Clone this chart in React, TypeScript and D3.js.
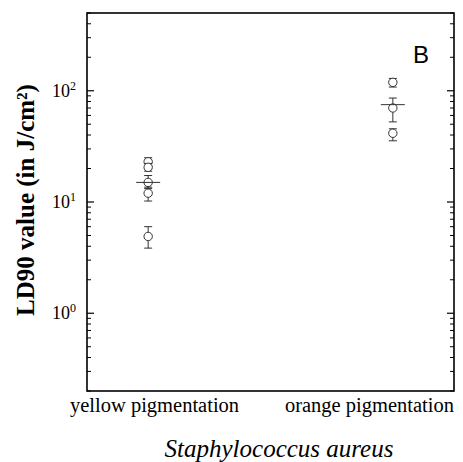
import React from "react";
import * as d3 from "d3";

// groups on the x axis
const groups = ["yellow pigmentation", "orange pigmentation"];

// individual strains: LD90 value and error bar ends
const yellowValues = [23, 20.5, 15, 12, 4.9];
const yellowHigh = [25, 22.2, 17.3, 13.6, 6.0];
const yellowLow = [21, 18.9, 13.2, 10.2, 3.85];

const orangeValues = [119, 70, 41.5];
const orangeHigh = [129, 86, 45.5];
const orangeLow = [108, 52.5, 35.5];

// group means
const groupMeans = [15, 75];

const yTickValues = [1, 10, 100];

const width = 463;
const height = 462;
const margin = { top: 13, right: 9, bottom: 71, left: 87 };

const serif = "Liberation Serif, Times New Roman, serif";

const App = () => {
  const innerW = width - margin.left - margin.right;
  const innerH = height - margin.top - margin.bottom;

  const x = d3.scalePoint().domain(groups).range([0, innerW]).padding(0.25);
  const y = d3.scaleLog().domain([0.2, 500]).range([innerH, 0]);

  const minor: number[] = [];
  [0.1, 1, 10, 100].forEach((d) => {
    for (let k = 2; k <= 9; k++) {
      const v = d * k;
      if (v >= 0.2 && v <= 500) minor.push(v);
    }
  });

  const points = [
    ...yellowValues.map((v, i) => ({ g: groups[0], v, hi: yellowHigh[i], lo: yellowLow[i] })),
    ...orangeValues.map((v, i) => ({ g: groups[1], v, hi: orangeHigh[i], lo: orangeLow[i] })),
  ];

  return (
    <svg width={width} height={height} style={{ position: "absolute", left: 0, top: 0, background: "#fff" }}>
      <g transform={`translate(${margin.left},${margin.top})`}>
        <rect x={0} y={0} width={innerW} height={innerH} fill="none" stroke="#000" strokeWidth={1.6} />

        {minor.map((v) => (
          <g key={"m" + v}>
            <line x1={0} x2={4} y1={y(v)} y2={y(v)} stroke="#000" strokeWidth={1} />
            <line x1={innerW} x2={innerW - 4} y1={y(v)} y2={y(v)} stroke="#000" strokeWidth={1} />
          </g>
        ))}
        {yTickValues.map((v) => (
          <g key={"t" + v}>
            <line x1={0} x2={7} y1={y(v)} y2={y(v)} stroke="#000" strokeWidth={1.2} />
            <line x1={innerW} x2={innerW - 7} y1={y(v)} y2={y(v)} stroke="#000" strokeWidth={1.2} />
            <text x={-11} y={y(v) + 6} textAnchor="end" fontFamily={serif} fontSize={18} fill="#000">
              10
              <tspan dy={-7} fontSize={12}>{Math.round(Math.log10(v))}</tspan>
            </text>
          </g>
        ))}

        {points.map((p, i) => {
          const cx = x(p.g)!;
          return (
            <g key={"p" + i} stroke="#333" fill="none" strokeWidth={1}>
              <line x1={cx} x2={cx} y1={y(p.hi)} y2={y(p.lo)} />
              <line x1={cx - 4} x2={cx + 4} y1={y(p.hi)} y2={y(p.hi)} />
              <line x1={cx - 4} x2={cx + 4} y1={y(p.lo)} y2={y(p.lo)} />
              <circle cx={cx} cy={y(p.v)} r={4.2} fill="#fff" />
            </g>
          );
        })}

        {groupMeans.map((m, i) => (
          <line key={"mean" + i} x1={x(groups[i])! - 12} x2={x(groups[i])! + 12} y1={y(m)} y2={y(m)} stroke="#333" strokeWidth={1} />
        ))}

        <text x={326} y={50} fontFamily="Liberation Sans, Arial, sans-serif" fontSize={24} fill="#000">B</text>

        <text x={-17} y={innerH + 21} textAnchor="start" fontFamily={serif} fontSize={20.5} fill="#000">{groups[0]}</text>
        <text x={innerW} y={innerH + 21} textAnchor="end" fontFamily={serif} fontSize={20.5} fill="#000">{groups[1]}</text>
        <text x={192} y={innerH + 66} textAnchor="middle" fontFamily={serif} fontStyle="italic" fontSize={25} fill="#000">Staphylococcus aureus</text>
      </g>
      <text
        transform={`translate(34,200) rotate(-90)`}
        textAnchor="middle"
        fontFamily={serif}
        fontWeight="bold"
        fontSize={25}
        fill="#000"
      >
        LD90 value (in J/cm²)
      </text>
    </svg>
  );
};

export default App;
